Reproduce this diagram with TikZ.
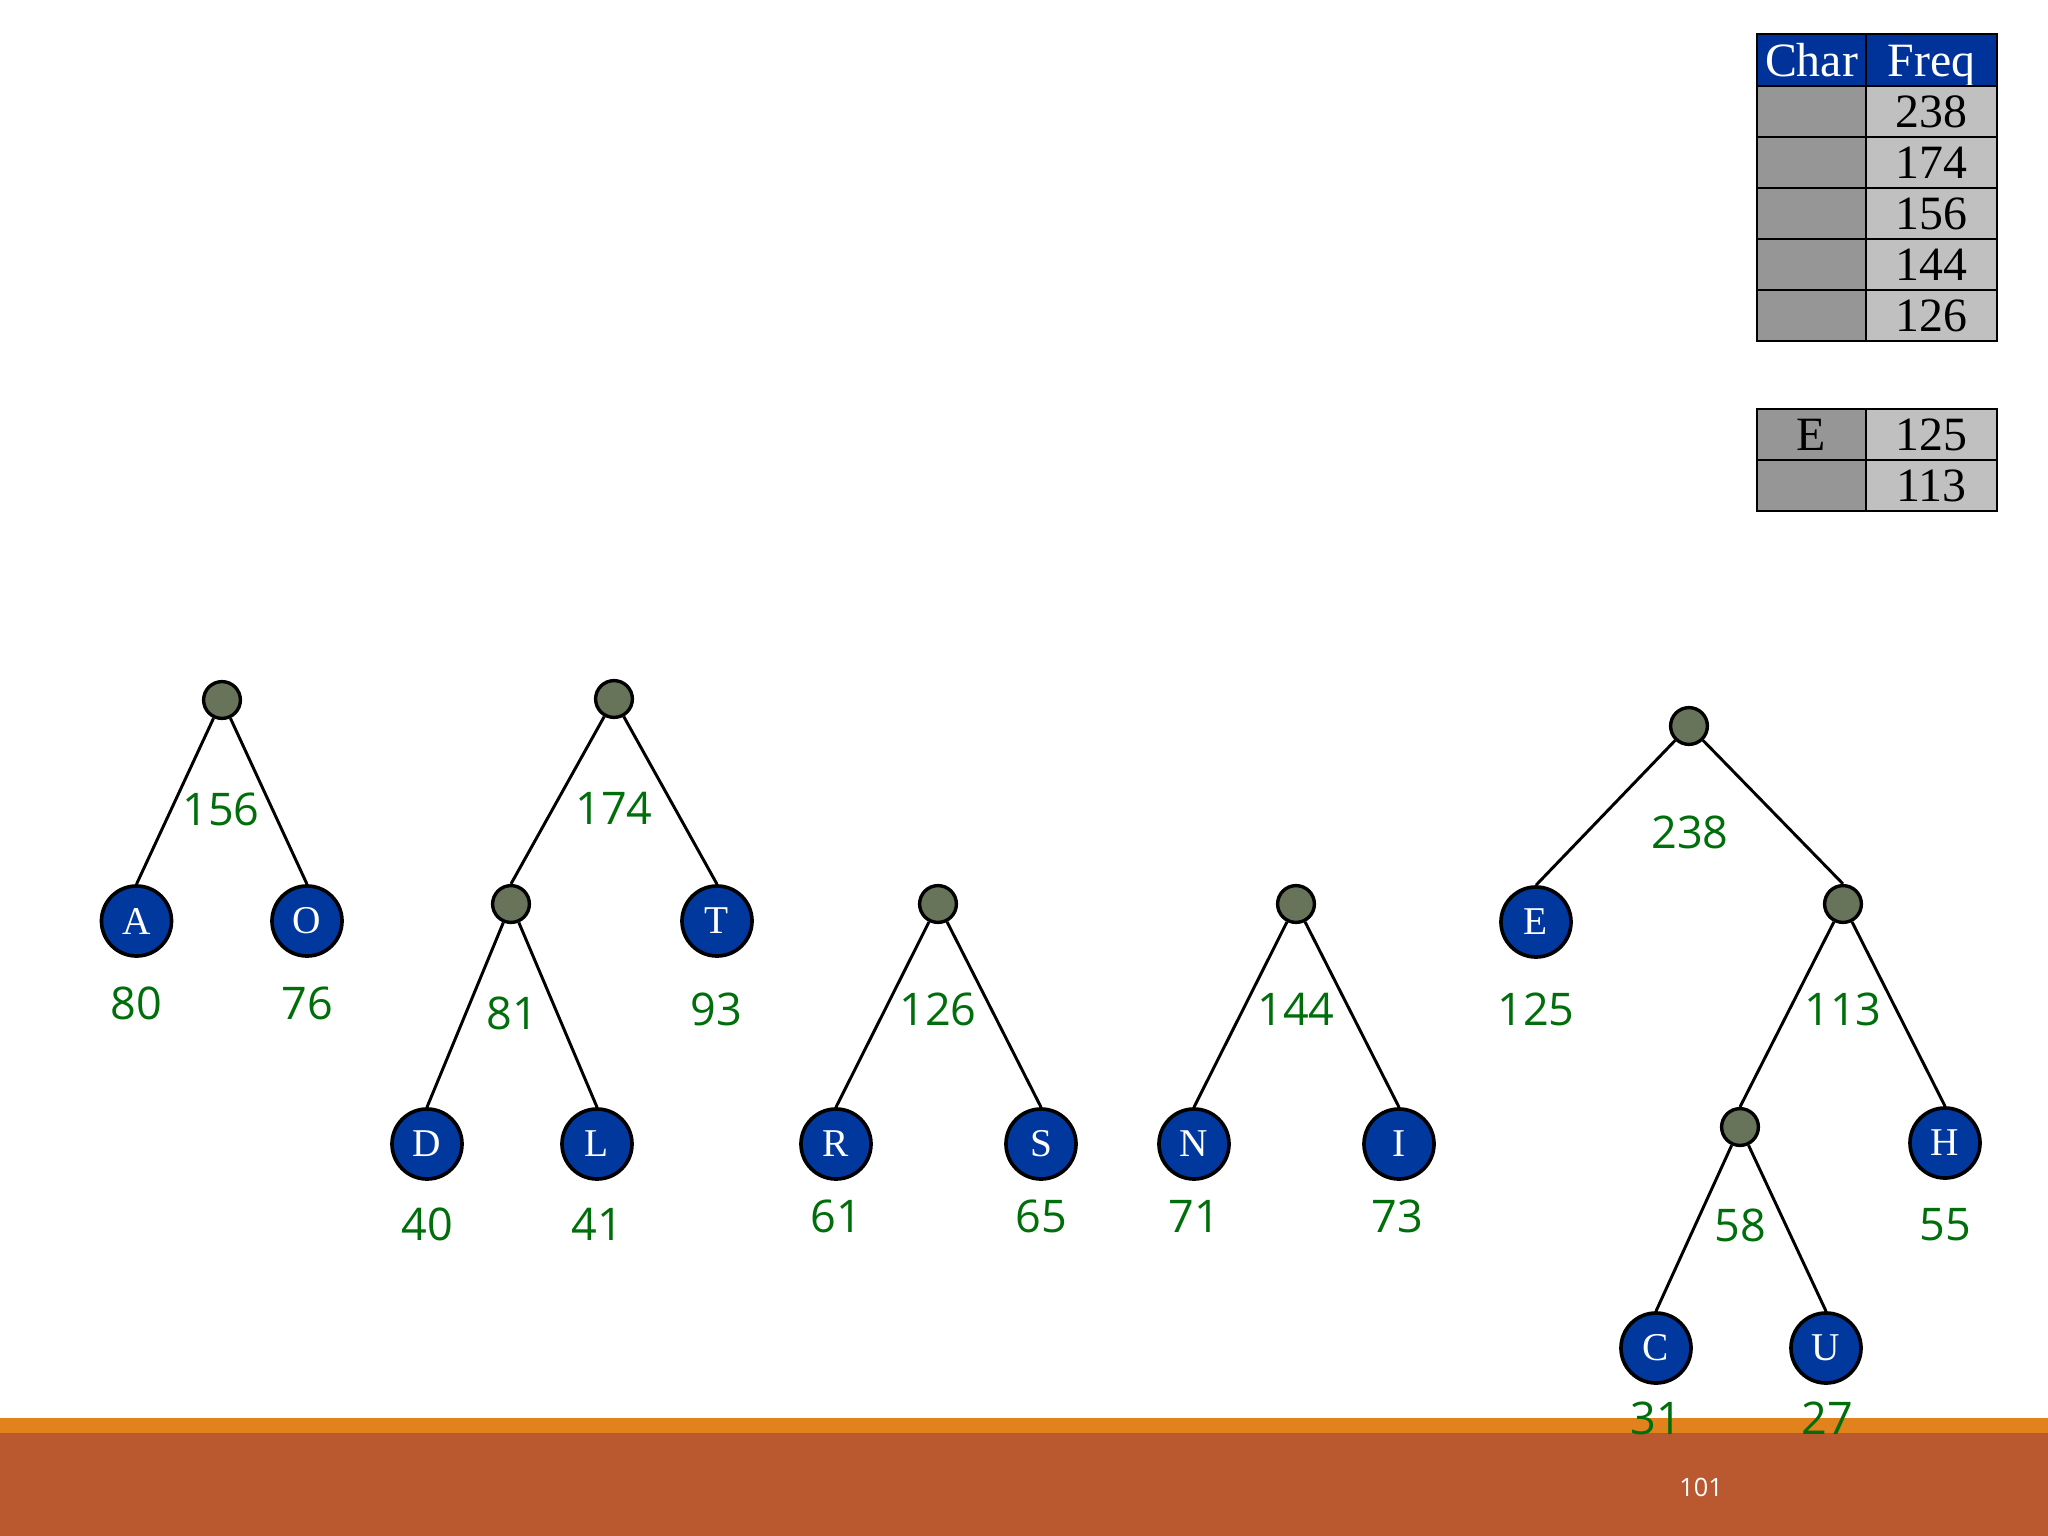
\documentclass[tikz,border=0pt]{standalone}
\usepackage{fontspec}
\setmainfont{Liberation Serif}
\newfontfamily\lblfont{Open Sans}
\definecolor{nodeblue}{RGB}{0,56,158}
\definecolor{headblue}{RGB}{0,51,153}
\definecolor{innergray}{RGB}{104,116,90}
\definecolor{lblgreen}{RGB}{0,110,10}
\definecolor{darkcell}{RGB}{150,150,150}
\definecolor{lightcell}{RGB}{192,192,192}
\definecolor{barlight}{RGB}{226,130,28}
\definecolor{bardark}{RGB}{186,88,48}
\tikzset{
  leaf/.style={circle,draw=black,line width=1.3pt,fill=nodeblue,minimum size=0.875cm,inner sep=0pt,text=white,font=\fontsize{14}{14}\selectfont},
  inner/.style={circle,draw=black,line width=1.2pt,fill=innergray,minimum size=0.46cm,inner sep=0pt},
  lbl/.style={text=lblgreen,font=\lblfont\fontsize{16}{16}\selectfont,inner sep=0pt},
  edge/.style={line width=1.05pt,black},
  cellA/.style={rectangle,draw=black,line width=0.9pt,fill=darkcell,minimum width=1.3625cm,minimum height=0.6375cm,inner sep=0pt,text height=11.5pt,text depth=0pt,font=\fontsize{17}{17}\selectfont},
  cellB/.style={rectangle,draw=black,line width=0.9pt,fill=lightcell,minimum width=1.6375cm,minimum height=0.6375cm,inner sep=0pt,text height=11.5pt,text depth=0pt,font=\fontsize{17}{17}\selectfont},
  headA/.style={cellA,fill=headblue,text=white,minimum height=0.65cm},
  headB/.style={cellB,fill=headblue,text=white,minimum height=0.65cm},
}
\begin{document}
\begin{tikzpicture}[x=0.0125cm,y=-0.0125cm]
\useasboundingbox (0,0) rectangle (2048,1536);
\fill[white] (0,0) rectangle (2048,1536);
% bottom bars
\fill[barlight] (0,1418) rectangle (2048,1433);
\fill[bardark] (0,1433) rectangle (2048,1536);
\node[text=white,font=\lblfont\fontsize{9}{9}\selectfont] (pg) at (1701,1487) {101};

% table
\node[headA] (hc) at (1811.5,60) {Char};
\node[headB] (hf) at (1931.5,60) {Freq};
\node[cellA] (c1) at (1811.5,111.5) {};
\node[cellB] (f1) at (1931.5,111.5) {238};
\node[cellA] (c2) at (1811.5,162.5) {};
\node[cellB] (f2) at (1931.5,162.5) {174};
\node[cellA] (c3) at (1811.5,213.5) {};
\node[cellB] (f3) at (1931.5,213.5) {156};
\node[cellA] (c4) at (1811.5,264.5) {};
\node[cellB] (f4) at (1931.5,264.5) {144};
\node[cellA] (c5) at (1811.5,315.5) {};
\node[cellB] (f5) at (1931.5,315.5) {126};
\node[cellA] (c6) at (1811.5,434.5) {E};
\node[cellB] (f6) at (1931.5,434.5) {125};
\node[cellA] (c7) at (1811.5,485.5) {};
\node[cellB] (f7) at (1931.5,485.5) {113};

% tree 1
\node[inner] (r1) at (222,700) {};
\node[leaf] (A) at (136.5,921) {A};
\node[leaf] (O) at (307,921) {O};
\draw[edge] (r1) -- (A.north);
\draw[edge] (r1) -- (O.north);
\node[lbl] (l156) at (221,809) {156};
\node[lbl] (l80) at (136,1003) {80};
\node[lbl] (l76) at (307,1003) {76};

% tree 2
\node[inner] (r2) at (614,699) {};
\node[inner] (n81) at (511,904) {};
\node[leaf] (T) at (717,921) {T};
\node[leaf] (D) at (427,1144) {D};
\node[leaf] (L) at (597,1144) {L};
\draw[edge] (r2) -- (n81.north);
\draw[edge] (r2) -- (T.north);
\draw[edge] (n81) -- (D.north);
\draw[edge] (n81) -- (L.north);
\node[lbl] (l174) at (614,808) {174};
\node[lbl] (l81) at (512,1013) {81};
\node[lbl] (l93) at (716,1009) {93};
\node[lbl] (l40) at (427,1224) {40};
\node[lbl] (l41) at (597,1224) {41};

% tree 3
\node[inner] (r3) at (938,904) {};
\node[leaf] (R) at (836,1144) {R};
\node[leaf] (S) at (1041,1144) {S};
\draw[edge] (r3) -- (R.north);
\draw[edge] (r3) -- (S.north);
\node[lbl] (l126) at (938,1009) {126};
\node[lbl] (l61) at (836,1216) {61};
\node[lbl] (l65) at (1041,1216) {65};

% tree 4
\node[inner] (r4) at (1296,904) {};
\node[leaf] (N) at (1194,1144) {N};
\node[leaf] (I) at (1399,1144) {I};
\draw[edge] (r4) -- (N.north);
\draw[edge] (r4) -- (I.north);
\node[lbl] (l144) at (1296,1009) {144};
\node[lbl] (l71) at (1194,1216) {71};
\node[lbl] (l73) at (1397,1216) {73};

% tree 5
\node[inner] (r5) at (1689,726) {};
\node[leaf] (E) at (1536,922) {E};
\node[inner] (n113) at (1843,904) {};
\node[inner] (n58) at (1740,1127) {};
\node[leaf] (H) at (1945,1143) {H};
\node[leaf] (C) at (1656,1348) {C};
\node[leaf] (U) at (1826,1348) {U};
\draw[edge] (r5) -- (E.north);
\draw[edge] (r5) -- (n113.north);
\draw[edge] (n113) -- (n58.north);
\draw[edge] (n113) -- (H.north);
\draw[edge] (n58) -- (C.north);
\draw[edge] (n58) -- (U.north);
\node[lbl] (l238) at (1690,832) {238};
\node[lbl] (l125) at (1536,1009) {125};
\node[lbl] (l113) at (1843,1009) {113};
\node[lbl] (l58) at (1740,1225) {58};
\node[lbl] (l55) at (1945,1225) {55};
\node[lbl] (l31) at (1656,1418) {31};
\node[lbl] (l27) at (1827,1418) {27};
\end{tikzpicture}
\end{document}
